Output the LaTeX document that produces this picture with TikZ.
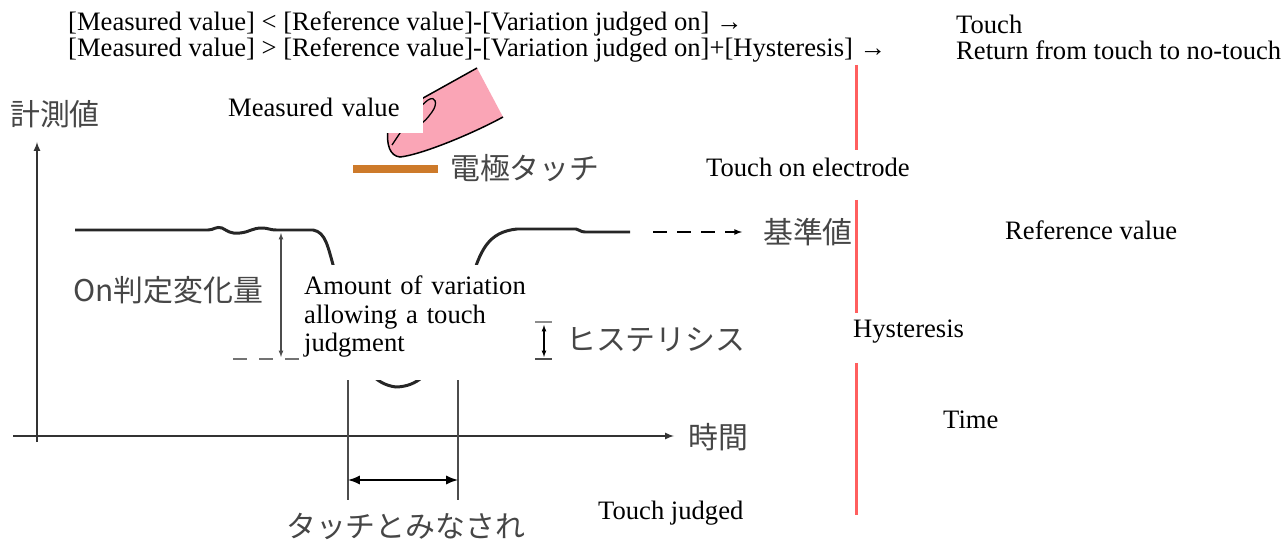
\documentclass[tikz,border=0pt]{standalone}
\usepackage{fontspec}
\setmainfont{Liberation Serif}
\newfontfamily\jp{Noto Sans CJK JP}
\definecolor{fingerpink}{RGB}{250,165,182}
\definecolor{electrode}{RGB}{205,122,42}
\definecolor{redline}{RGB}{255,95,95}
\definecolor{jpgray}{RGB}{70,70,70}
\tikzset{en/.style={font=\fontsize{26.7}{29}\selectfont, inner sep=0pt},
  ja/.style={font=\jp\fontsize{30}{33}\selectfont, text=jpgray, inner sep=0pt}}
\begin{document}
\begin{tikzpicture}[>=latex, x=1bp, y=-1bp]
\useasboundingbox (0,0) rectangle (1288,540);
\node[en, anchor=west] (ruleon) at (68,24) {[Measured value] < [Reference value]-[Variation judged on] →};
\node[en, anchor=west] (ruleoff) at (68,50) {[Measured value] > [Reference value]-[Variation judged on]+[Hysteresis] →};
\node[en, anchor=west] (touch) at (956,24) {Touch};
\node[en, anchor=west] (back) at (956,50) {Return from touch to no-touch};
% axes
\draw[->, line width=2, black!80] (13,436) -- (674,436);
\draw[->, line width=2, black!80] (37,442) -- (37,142);
\node[ja] (jmeas) at (55,114) {計測値};
\node[ja, anchor=west] (jtime) at (688,437) {時間};
% finger and electrode
\fill[fingerpink] (398,112) -- (477,68) -- (503,117) .. controls (470,135) and (420,155) .. (400,157) .. controls (390,156) and (386,145) .. (388,128) -- cycle;
\draw[line width=1.5] (398,112) -- (477,68);
\draw[line width=1.5] (503,117) .. controls (470,135) and (420,155) .. (400,157) .. controls (390,156) and (386,145) .. (388,128);
\draw[line width=1.3] (392,145) .. controls (402,130) and (415,110) .. (428,100) .. controls (436,95) and (438,104) .. (432,112) .. controls (426,120) .. (418,126);
\draw[electrode, line width=9] (353,169) -- (438,169);
\node[ja, anchor=west] (jelec) at (450,168) {電極タッチ};
% measured curve
\draw[line width=3, black!85] (75,230) -- (208,230) .. controls (214,230) and (216,226) .. (222,228) .. controls (228,231) and (230,234) .. (240,233) .. controls (250,232) and (252,228) .. (262,228) .. controls (268,228) and (270,230) .. (276,230) -- (313,230) .. controls (326,232) and (328,248) .. (334,268) .. controls (345,310) and (352,382) .. (396,387) .. controls (440,386) and (445,330) .. (470,285) .. controls (480,250) and (488,232) .. (517,229) -- (576,229) .. controls (579,229) and (580,232) .. (585,232) -- (630,232);
\node[ja, anchor=west] (jref) at (763,232) {基準値};
\draw[->, line width=1.6, dash pattern=on 14bp off 10bp, shorten >=21bp] (653,232) -- (jref.west);
% on variation and hysteresis
\node[ja, anchor=west] (jon) at (73,290) {On判定変化量};
\draw[<->, line width=1.2, black!70] (281,233) -- (281,357);
\draw[line width=2, black!55, dash pattern=on 14bp off 12bp] (233,359) -- (300,359);
\draw[line width=1.3, black!45] (535,322) -- (552,322);
\draw[line width=1.8, black!70] (535,359) -- (552,359);
\draw[<->, line width=1.2] (544,325) -- (544,357);
\node[ja, anchor=west] (jhyst) at (566,340) {ヒステリシス};
% touch judged span
\draw[line width=1.3, black!70] (348,380) -- (348,500);
\draw[line width=1.3, black!70] (458,380) -- (458,500);
\draw[<->, line width=3] (348,480) -- (458,480);
\node[ja, anchor=west] (jjudge) at (286,526) {タッチとみなされ};
% overlays
\node[en, fill=white, anchor=south west, text width=191bp, minimum height=50bp, inner sep=4bp] (mval) at (224,133) {Measured value};
\node[en, fill=white, anchor=north west, text width=225bp, minimum height=115bp, inner sep=4bp, align=left] (amount) at (300,265) {Amount of variation\\allowing a touch\\judgment\rule[-18bp]{0pt}{18bp}};
\draw[redline, line width=3] (856,65) -- (856,150) (856,200) -- (856,313) (856,363) -- (856,515);
\node[en, anchor=west] (elec) at (706,167) {Touch on electrode};
\node[en, anchor=west] (refval) at (1005,230) {Reference value};
\node[en, anchor=west] (hyst) at (853,332) {Hysteresis};
\node[en, anchor=west] (time) at (943,420) {Time};
\node[en, anchor=west] (judged) at (598,513) {Touch judged};
\end{tikzpicture}
\end{document}
